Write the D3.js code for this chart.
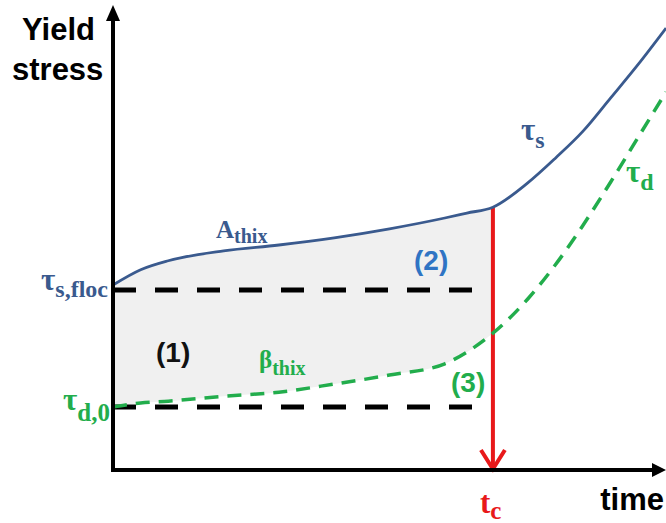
<!DOCTYPE html>
<html>
<head>
<meta charset="utf-8">
<script src="https://cdn.jsdelivr.net/npm/d3@7"></script>
<style>
  html, body { margin: 0; padding: 0; background: #fff; }
  svg { display: block; }
  .sans { font-family: "Liberation Sans", Arial, sans-serif; font-weight: bold; }
  .serif { font-family: "Liberation Serif", "Times New Roman", serif; font-weight: bold; }
</style>
</head>
<body>
<svg id="chart" width="666" height="523"></svg>
<script>
// time axis (arbitrary units, 0..100) and the two yield stress curves
const time = [0, 5, 10, 20, 30, 40, 50, 60, 64, 68.7, 75, 80, 85, 90, 95, 100];
const staticStress = [41.1, 44.5, 46.5, 48.7, 50.0, 51.6, 53.6, 56.0, 57.1, 58.4, 63.8, 69.3, 75.3, 82.7, 90.2, 98.2];
const dynamicStress = [14.0, 14.9, 15.3, 16.4, 17.3, 19.1, 21.1, 23.6, 26.2, 30.4, 38.0, 45.6, 54.4, 64.0, 74.0, 84.0];
const levelFloc = 40;
const levelD0 = 14;
const tc = 68.7;

const BLUE = "#3a5a8e";
const GREEN = "#22ad4c";
const RED = "#e8191a";

const svg = d3.select("#chart");

const x = d3.scaleLinear().domain([0, 100]).range([113, 666]);
const y = d3.scaleLinear().domain([0, 100]).range([470, 20]);

const points = time.map((t, i) => ({ t, s: staticStress[i], d: dynamicStress[i] }));
const beforeTc = points.filter((p) => p.t <= tc);

// shaded region between the curves, up to tc
svg.append("path")
  .datum(beforeTc)
  .attr("fill", "#f0f0f0")
  .attr("d", d3.area()
    .curve(d3.curveMonotoneX)
    .x((p) => x(p.t))
    .y0((p) => y(p.d))
    .y1((p) => y(p.s)));

// black dashed reference levels
svg.append("g")
  .selectAll("line")
  .data([levelFloc, levelD0])
  .join("line")
  .attr("x1", x(0))
  .attr("x2", x(tc))
  .attr("y1", (v) => y(v))
  .attr("y2", (v) => y(v))
  .attr("stroke", "#000")
  .attr("stroke-width", 5)
  .attr("stroke-dasharray", "23,19");

// red tc arrow
const sAtTc = beforeTc[beforeTc.length - 1].s;
svg.append("line")
  .attr("x1", x(tc)).attr("x2", x(tc))
  .attr("y1", y(sAtTc)).attr("y2", y(0) - 2)
  .attr("stroke", RED).attr("stroke-width", 4);
svg.append("path")
  .attr("d", `M${x(tc) - 12},${y(0) - 20} L${x(tc)},${y(0) - 1} L${x(tc) + 12},${y(0) - 20}`)
  .attr("fill", "none")
  .attr("stroke", RED)
  .attr("stroke-width", 4)
  .attr("stroke-linejoin", "miter");

// curves
const line = (key) => d3.line()
  .curve(d3.curveMonotoneX)
  .x((p) => x(p.t))
  .y((p) => y(p[key]));

svg.append("path")
  .datum(points)
  .attr("fill", "none")
  .attr("stroke", BLUE)
  .attr("stroke-width", 2.8)
  .attr("d", line("s"));

svg.append("path")
  .datum(points)
  .attr("fill", "none")
  .attr("stroke", GREEN)
  .attr("stroke-width", 3.5)
  .attr("stroke-dasharray", "14,9")
  .attr("d", line("d"));

// axes with arrow heads
svg.append("line")
  .attr("x1", x(0)).attr("x2", x(0))
  .attr("y1", y(0) + 2).attr("y2", 18)
  .attr("stroke", "#000").attr("stroke-width", 4);
svg.append("path")
  .attr("d", `M${x(0) - 7},21 L${x(0)},5 L${x(0) + 7},21 Z`)
  .attr("fill", "#000");
svg.append("line")
  .attr("x1", x(0) - 2).attr("x2", 655)
  .attr("y1", y(0)).attr("y2", y(0))
  .attr("stroke", "#000").attr("stroke-width", 4);
svg.append("path")
  .attr("d", `M652,${y(0) - 7} L666,${y(0)} L652,${y(0) + 7} Z`)
  .attr("fill", "#000");

// labels
function label(px, py, parts, color, anchor) {
  const t = svg.append("text")
    .attr("class", "serif")
    .attr("x", px)
    .attr("y", py)
    .attr("fill", color)
    .attr("text-anchor", anchor || "start");
  parts.forEach(([txt, size, dy]) => {
    t.append("tspan").attr("font-size", size).attr("dy", dy).text(txt);
  });
  return t;
}

svg.append("text").attr("class", "sans").attr("x", 22).attr("y", 40)
  .attr("font-size", 31).attr("fill", "#000").text("Yield");
svg.append("text").attr("class", "sans").attr("x", 12).attr("y", 80)
  .attr("font-size", 31).attr("fill", "#000").text("stress");
svg.append("text").attr("class", "sans").attr("x", 664).attr("y", 510)
  .attr("text-anchor", "end")
  .attr("font-size", 31).attr("fill", "#000").text("time");

label(108, y(levelFloc), [["τ", 31, 0], ["s,floc", 24, 7]], BLUE, "end");
label(110, y(levelD0) + 3, [["τ", 31, 0], ["d,0", 25, 11]], GREEN, "end");
label(x(tc) - 13, 513, [["t", 31, 0], ["c", 25, 6]], RED);
label(216, 238, [["A", 25, 0], ["thix", 20, 5]], BLUE);
label(259, 368, [["β", 25, 0], ["thix", 20, 7]], GREEN);
label(521, 140, [["τ", 31, 0], ["s", 24, 8]], BLUE);
label(626, 182, [["τ", 31, 0], ["d", 24, 8]], GREEN);

svg.append("text").attr("class", "sans").attr("x", 156).attr("y", 362)
  .attr("font-size", 28).attr("fill", "#111").text("(1)");
svg.append("text").attr("class", "sans").attr("x", 414).attr("y", 270)
  .attr("font-size", 28).attr("fill", "#2f74c4").text("(2)");
svg.append("text").attr("class", "sans").attr("x", 451).attr("y", 392)
  .attr("font-size", 28).attr("fill", GREEN).text("(3)");
</script>
</body>
</html>
